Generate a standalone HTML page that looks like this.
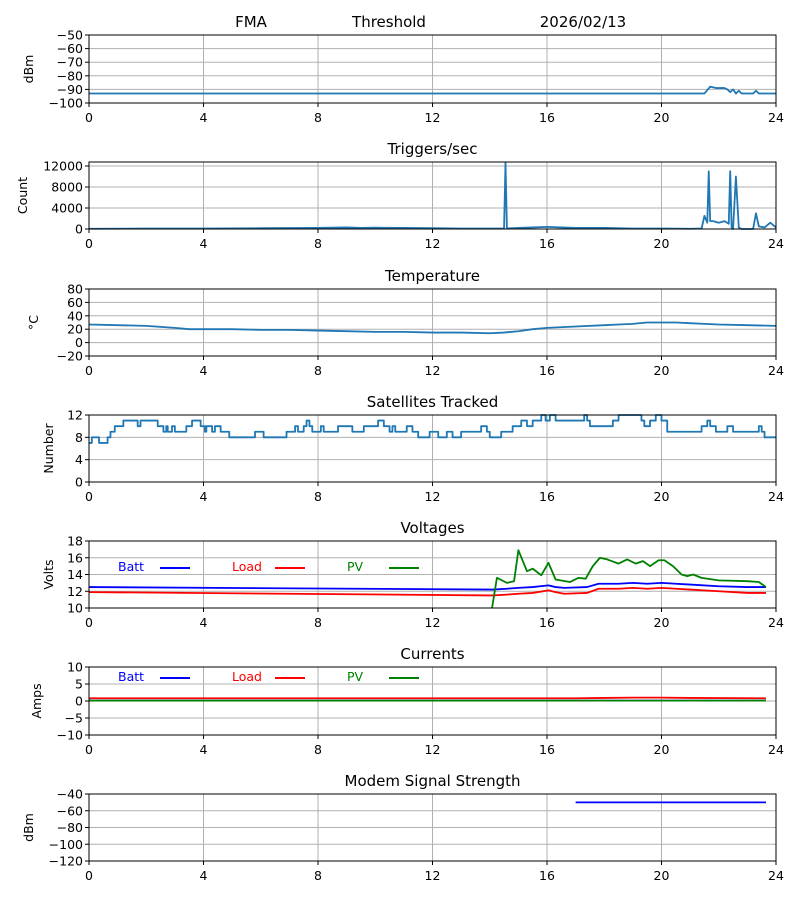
<!DOCTYPE html>
<html><head><meta charset="utf-8"><style>
body{margin:0;background:#fff;}
svg{display:block;font-family:"DejaVu Sans","Liberation Sans",sans-serif;}
</style></head><body>
<svg id="c" width="800" height="900" xmlns="http://www.w3.org/2000/svg"></svg>
<script>
const xTicks=[0,4,8,12,16,20,24];
const fmaT=[0,14.55,14.6,21.5,21.7,21.9,22.2,22.3,22.4,22.5,22.6,22.7,22.8,22.9,23.2,23.3,23.4,24];
const fmaV=[-93,-93,-93,-93,-88,-89,-89,-90,-92,-90,-93,-91,-93,-93,-93,-91,-93,-93];
const trigT=[0,2,4,6,8,9,9.5,10,11,12,13,14,14.5,14.55,14.6,15,15.5,16,16.5,17,18,19,20,21,21.4,21.5,21.6,21.65,21.7,21.8,22,22.2,22.35,22.4,22.45,22.5,22.6,22.7,22.8,23,23.2,23.3,23.4,23.6,23.8,24];
const trigV=[50,80,100,150,200,300,200,250,200,150,100,100,100,12600,100,200,300,400,300,200,200,100,100,50,100,2500,1200,11000,1500,1500,1200,1500,1000,11000,300,0,10000,300,0,0,0,3000,500,300,1200,300];
const tempT=[0,1,2,3,3.5,5,6,7,8,9,10,11,12,13,14,14.5,15,15.5,16,17,18,18.5,19,19.5,20,20.5,21,21.5,22,23,24];
const tempV=[27,26,25,22,20,20,19,19,18,17,16,16,15,15,14,15,17,20,22,24,26,27,28,30,30,30,29,28,27,26,25];
const satT=[0,0.1,0.35,0.65,0.75,0.9,1.2,1.7,1.8,2.4,2.6,2.7,2.75,2.9,3,3.4,3.6,3.9,4.05,4.1,4.3,4.4,4.6,4.9,5.8,6.1,6.9,7.2,7.3,7.5,7.6,7.7,7.8,8.1,8.2,8.7,9.2,9.6,10.1,10.3,10.5,10.6,10.7,11.1,11.3,11.5,11.9,12.2,12.5,12.7,13.0,13.7,13.9,14,14.4,14.8,15.1,15.3,15.5,15.8,15.95,16.1,16.3,17,17.3,17.4,17.5,18.0,18.3,18.5,19.3,19.4,19.6,19.8,20.0,20.2,21.3,21.4,21.6,21.7,21.9,22.3,22.5,23.4,23.5,23.6,24];
const satV=[7,8,7,8,9,10,11,10,11,10,9,10,9,10,9,10,11,10,9,10,9,10,9,8,9,8,9,10,9,10,11,10,9,10,9,10,9,10,11,10,9,10,9,10,9,8,9,8,9,8,9,10,9,8,9,10,11,10,11,12,11,12,11,11,12,11,10,10,11,12,11,10,11,12,11,9,9,10,11,10,9,10,9,10,9,8,8];
const voltT=[0,14,14.1,14.6,15.0,15.5,16.05,16.3,16.6,17.4,17.8,18.5,19,19.5,20,20.5,21,22,23,23.65];
const battV=[12.5,12.2,12.2,12.3,12.4,12.5,12.7,12.5,12.4,12.5,12.9,12.9,13.0,12.9,13.0,12.9,12.8,12.6,12.5,12.5];
const loadV=[11.9,11.5,11.5,11.6,11.7,11.8,12.1,11.9,11.7,11.8,12.3,12.3,12.4,12.3,12.4,12.3,12.2,12.0,11.8,11.8];
const pvT=[14.08,14.25,14.6,14.85,15.0,15.3,15.5,15.8,16.05,16.3,16.8,17.1,17.35,17.6,17.85,18.1,18.5,18.8,19.1,19.35,19.6,19.9,20.1,20.4,20.7,20.9,21.1,21.4,22.0,23.0,23.4,23.65];
const pvV=[10,13.6,13.0,13.2,16.9,14.4,14.7,13.9,15.4,13.4,13.1,13.6,13.5,15.0,16.0,15.8,15.3,15.8,15.3,15.6,15.0,15.7,15.7,15.0,14.0,13.8,14.0,13.6,13.3,13.2,13.1,12.5];
const curT=[0,17,18,19,20,21,23.65];
const curBatt=[0.1,0.1,0.1,0.1,0.1,0.1,0.1];
const curLoad=[0.8,0.8,0.9,1.0,1.0,0.9,0.8];
const curPV=[0.1,0.1,0.1,0.1,0.1,0.1,0.1];
const modT=[17,23.65];
const modV=[-50,-50];

const svg=document.getElementById('c');
const NS='http://www.w3.org/2000/svg';
const X0=89,X1=776;
function mk(tag,attrs,name,parent){const e=document.createElementNS(NS,tag);for(const k in attrs)e.setAttribute(k,attrs[k]);


(parent||svg).appendChild(e);return e;}
const xs=h=>X0+h*(X1-X0)/24;
const fmt=v=>String(v).replace('-','\u2212');
function panel(o){
  const g=mk('g',{},o.name+'-panel');
  const ys=v=>o.y1-(v-o.ymin)*(o.y1-o.y0)/(o.ymax-o.ymin);
  o.yt.forEach(t=>{const y=ys(t);
    mk('line',{x1:X0,x2:X1,y1:y,y2:y,stroke:'#b0b0b0','stroke-width':1},'y-gridline',g);
    mk('line',{x1:X0-4,x2:X0,y1:y,y2:y,stroke:'#000'},'y-tick',g);
    const t2=mk('text',{x:X0-6,y:y+4.5,'text-anchor':'end','font-size':12.5},'y-tick-label',g);t2.textContent=fmt(t);});
  xTicks.forEach(t=>{const x=xs(t);
    mk('line',{x1:x,x2:x,y1:o.y0,y2:o.y1,stroke:'#b0b0b0'},'x-gridline',g);
    mk('line',{x1:x,x2:x,y1:o.y1,y2:o.y1+4,stroke:'#000'},'x-tick',g);
    const t2=mk('text',{x:x,y:o.y1+19,'text-anchor':'middle','font-size':12.5},'x-tick-label',g);t2.textContent=t;});
  o.series.forEach(s=>{let d='';
    s.t.forEach((t,i)=>{const x=xs(t),y=ys(s.v[i]);
      if(i===0)d+='M'+x+','+y;else if(s.step){d+='H'+x+'V'+y;}else d+='L'+x+','+y;});
    mk('path',{d:d,fill:'none',stroke:s.c,'stroke-width':1.8,'stroke-linejoin':'round'},s.n+'-line',g);});
  mk('rect',{x:X0,y:o.y0,width:X1-X0,height:o.y1-o.y0,fill:'none',stroke:'#000','stroke-width':1},o.name+'-frame',g);
  if(o.title){const t=mk('text',{x:(X0+X1)/2,y:o.y0-8,'text-anchor':'middle','font-size':15},o.name+'-title',g);t.textContent=o.title;}
  const yl=mk('text',{x:0,y:0,'text-anchor':'middle','font-size':12.5,transform:'translate('+(o.ylx||33)+','+((o.y0+o.y1)/2)+') rotate(-90)'},'y-axis-title',g);yl.textContent=o.ylabel;
  if(o.legend){const lo=o.legend;[['Batt','blue',118,160],['Load','red',232,275],['PV','green',347,389]].forEach(l=>{
    const t=mk('text',{x:l[2],y:o.y0+lo+4,fill:l[1],'font-size':12.5},'legend-entry-'+l[0].toLowerCase(),g);t.textContent=l[0];
    mk('line',{x1:l[3],x2:l[3]+30,y1:o.y0+lo+1,y2:o.y0+lo+1,stroke:l[1],'stroke-width':2},'legend-line-'+l[0].toLowerCase(),g);});}
}
const C='#1f77b4';
panel({name:'fma',y0:35,y1:103,ymin:-100,ymax:-50,yt:[-50,-60,-70,-80,-90,-100],ylabel:'dBm',ylx:33,series:[{t:fmaT,v:fmaV,c:C,n:'fma'}]});
[['FMA',251],['Threshold',389],['2026/02/13',583]].forEach(h=>{const t=mk('text',{x:h[1],y:27,'text-anchor':'middle','font-size':15},'header-'+h[0].toLowerCase().replace(/\//g,'-'));t.textContent=h[0];});
panel({name:'triggers',y0:162,y1:229,ymin:0,ymax:12760,yt:[0,4000,8000,12000],title:'Triggers/sec',ylabel:'Count',ylx:27,series:[{t:trigT,v:trigV,c:C,n:'triggers'}]});
panel({name:'temperature',y0:289,y1:356,ymin:-20,ymax:80,yt:[80,60,40,20,0,-20],title:'Temperature',ylabel:'°C',ylx:38,series:[{t:tempT,v:tempV,c:C,n:'temperature'}]});
panel({name:'satellites',y0:415,y1:482,ymin:0,ymax:12,yt:[0,4,8,12],title:'Satellites Tracked',ylabel:'Number',ylx:53,series:[{t:satT,v:satV,c:C,n:'satellites',step:true}]});
panel({name:'voltages',y0:541,y1:608,ymin:10,ymax:18,yt:[10,12,14,16,18],title:'Voltages',ylabel:'Volts',ylx:53,legend:26,series:[{t:voltT,v:battV,c:'blue',n:'batt'},{t:voltT,v:loadV,c:'red',n:'load'},{t:pvT,v:pvV,c:'green',n:'pv'}]});
panel({name:'currents',y0:667,y1:735,ymin:-10,ymax:10,yt:[10,5,0,-5,-10],title:'Currents',ylabel:'Amps',ylx:41,legend:10,series:[{t:curT,v:curBatt,c:'blue',n:'batt-current'},{t:curT,v:curLoad,c:'red',n:'load-current'},{t:curT,v:curPV,c:'green',n:'pv-current'}]});
panel({name:'modem',y0:794,y1:861,ymin:-120,ymax:-40,yt:[-40,-60,-80,-100,-120],title:'Modem Signal Strength',ylabel:'dBm',ylx:33,series:[{t:modT,v:modV,c:'blue',n:'modem'}]});
</script>
</body></html>
